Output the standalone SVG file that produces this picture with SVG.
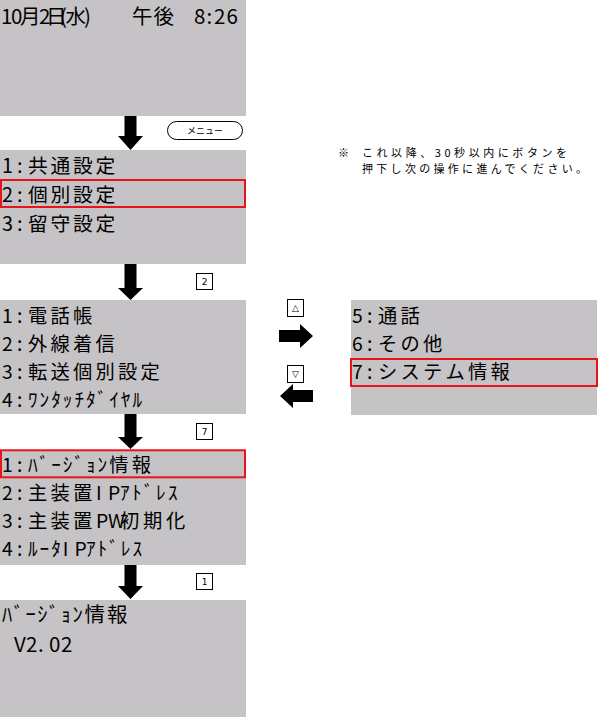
<svg xmlns="http://www.w3.org/2000/svg" width="600" height="717" viewBox="0 0 600 717">
<style>
.scr{fill:#C6C3C6}
.sel{fill:none;stroke:#E8141C;stroke-width:2}
.t{font-family:"Noto Sans CJK JP","Noto Sans CJK SC",sans-serif;font-size:19.3px;fill:#000}
.t2{font-size:19.8px}
.t3{font-size:20.5px}
.note{font-family:"Noto Sans CJK JP","Noto Sans CJK SC",sans-serif;font-size:11px;fill:#000}
.kb{fill:#fff;stroke:#000;stroke-width:1}
.k{font-family:"DejaVu Sans","Noto Sans CJK JP",sans-serif;font-size:9px;text-anchor:middle;fill:#000}
.km{font-family:"Noto Sans CJK JP",sans-serif;font-size:9px;text-anchor:middle;fill:#000}
.arr{fill:#000}
</style>
<rect width="600" height="717" fill="#fff"/>

<g id="screen-idle">
<rect class="scr" x="0" y="0" width="246" height="116"/>
<text class="t t3" x="1 11 20 39 46 60 65.5 84 92 132 153.5 175 194 206.5 214 226.5" y="24.2">10月2日(水) 午後 8:26</text>
</g>

<g id="key-menu">
<rect class="kb" x="167.5" y="121.5" width="75" height="18" rx="9"/>
<text class="km" x="205" y="134">メニュー</text>
</g>

<g id="note">
<text class="note" y="156.7"><tspan x="338">※</tspan><tspan x="362" textLength="205" lengthAdjust="spacing">これ以降、30秒以内にボタンを</tspan></text>
<text class="note" x="362" y="172.7" textLength="225" lengthAdjust="spacing">押下し次の操作に進んでください。</text>
</g>

<g id="menu-main">
<rect class="scr" x="0" y="150" width="246" height="114"/>
<rect class="sel" x="1" y="180" width="244" height="27"/>
<text class="t t2" x="2 17 28 50.5 73 95.5" y="172.6">1:共通設定</text>
<text class="t t2" x="2 17 28 50.5 73 95.5" y="201.6">2:個別設定</text>
<text class="t t2" x="2 17 28 50.5 73 95.5" y="230.6">3:留守設定</text>
</g>

<g id="key-2">
<rect class="kb" x="196.5" y="273.5" width="16" height="16"/>
<text class="k" x="204.5" y="285">2</text>
</g>

<g id="menu-kobetsu-1">
<rect class="scr" x="0" y="300" width="246" height="114"/>
<text class="t" x="2 17 28 50.5 73" y="322.5">1:電話帳</text>
<text class="t" x="2 17 28 50.5 73 95.5" y="350.5">2:外線着信</text>
<text class="t" x="2 17 28 50.5 73 95.5 118 140.5" y="378.5">3:転送個別設定</text>
<text class="t" x="2 17 28 39.6 51.2 62.8 74.4 86 97.6 109.2 120.8 132.4" y="406.5">4:ﾜﾝﾀｯﾁﾀﾞｲﾔﾙ</text>
</g>

<g id="key-up">
<rect class="kb" x="287.5" y="299.5" width="16" height="17"/>
<text class="k" x="295.5" y="311">△</text>
</g>

<g id="key-down">
<rect class="kb" x="287.5" y="365.5" width="16" height="17"/>
<text class="k" x="295.5" y="377">▽</text>
</g>

<g id="menu-kobetsu-2">
<rect class="scr" x="351" y="300" width="246" height="115"/>
<rect class="sel" x="351" y="359" width="246" height="27"/>
<text class="t" x="352 367 378 400.5" y="322.5">5:通話</text>
<text class="t" x="352 367 378 400.5 423" y="350.5">6:その他</text>
<text class="t" x="352 367 378 400.5 423 445.5 468 490.5" y="379">7:システム情報</text>
</g>

<g id="key-7">
<rect class="kb" x="196.5" y="423.5" width="16" height="16"/>
<text class="k" x="204.5" y="435">7</text>
</g>

<g id="menu-system">
<rect class="scr" x="0" y="450" width="246" height="115"/>
<rect class="sel" x="1" y="450.3" width="244" height="27"/>
<text class="t" x="2 17 28 39.6 51.2 62.8 74.4 86 97.6 109.2 131.7" y="472">1:ﾊﾞｰｼﾞｮﾝ情報</text>
<text class="t" x="2 17 28 50.5 73 96 108 120 132 144 156 168" y="500">2:主装置IPｱﾄﾞﾚｽ</text>
<text class="t" x="2 17 28 50.5 73 96 108 120 143 166" y="528">3:主装置PW初期化</text>
<text class="t" x="2 17 28 39.6 51.2 62.8 74.4 86 97.6 109.2 120.8 132.4" y="556">4:ﾙｰﾀIPｱﾄﾞﾚｽ</text>
</g>

<g id="key-1">
<rect class="kb" x="196.5" y="573.5" width="16" height="16"/>
<text class="k" x="204.5" y="585">1</text>
</g>

<g id="screen-version">
<rect class="scr" x="0" y="600" width="246" height="117"/>
<text class="t t3" x="2 13.75 25.5 37.25 49 60.75 72.5 84.5 107" y="622">ﾊﾞｰｼﾞｮﾝ情報</text>
<text class="t t3" x="14 26 38 49 61" y="652">V2.02</text>
</g>

<g id="connectors">
<path class="arr" d="M124.5,116 H136.5 V136 H143 L130.5,150 L118,136 H124.5 Z"/>
<path class="arr" d="M124.5,264 H136.5 V288 H143 L130.5,300 L118,288 H124.5 Z"/>
<path class="arr" d="M279,330 H300 V324 L313,336 L300,348 V342 H279 Z"/>
<path class="arr" d="M313,390 H293 V384 L280,396 L293,408 V402 H313 Z"/>
<path class="arr" d="M124.5,414 H136.5 V437 H143 L130.5,449 L118,437 H124.5 Z"/>
<path class="arr" d="M124.5,565 H136.5 V586 H143 L130.5,599 L118,586 H124.5 Z"/>
</g>
</svg>
